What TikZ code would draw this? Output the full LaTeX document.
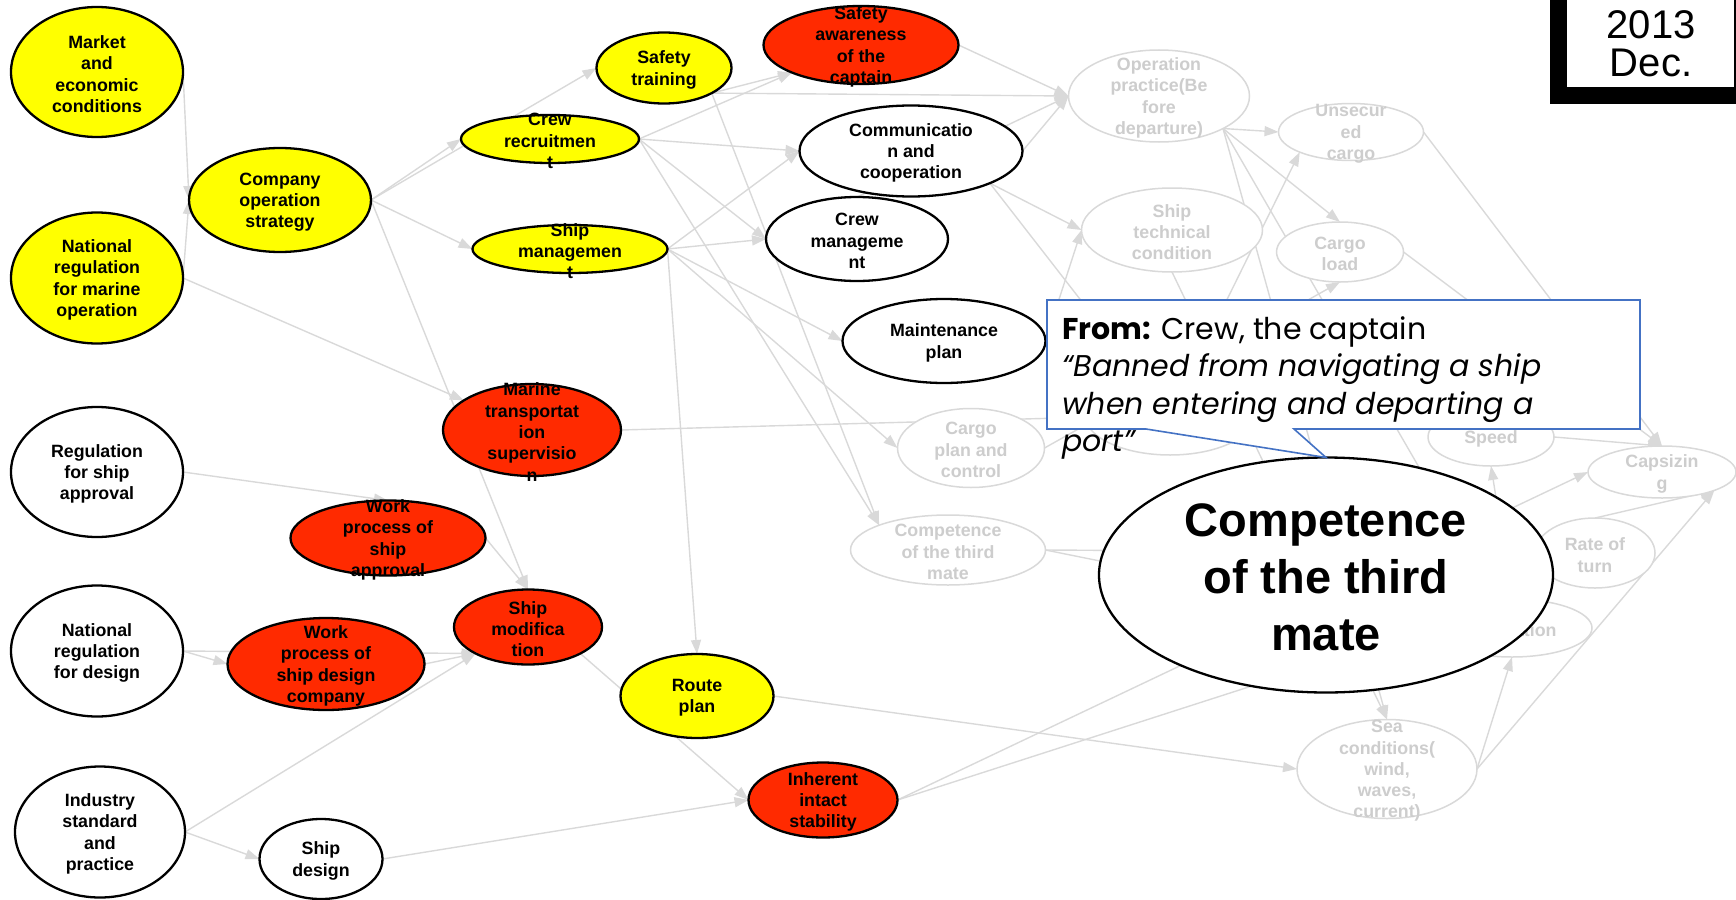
\documentclass[tikz,border=0pt]{standalone}
\usepackage{fontspec}
\setmainfont{Liberation Sans}
\newfontfamily\gothic{Poppins}
\usetikzlibrary{arrows.meta,shapes.geometric,backgrounds}

\definecolor{nodeyellow}{RGB}{255,255,0}
\definecolor{nodered}{RGB}{255,42,0}
\definecolor{faint}{RGB}{217,217,217}
\definecolor{fainttext}{RGB}{205,205,205}
\definecolor{calloutblue}{RGB}{68,114,196}

\newcommand{\nodefont}{\bfseries\fontsize{17.8}{21.3}\selectfont}

\begin{document}
\begin{tikzpicture}[x=1pt,y=-1pt,
    factor/.style={ellipse, inner sep=0pt, outer sep=0pt, draw=black, line width=2.3pt},
    yel/.style={factor, fill=nodeyellow},
    hot/.style={factor, fill=nodered},
    plain/.style={factor, fill=white},
    faded/.style={factor, fill=white, draw=faint, line width=1.5pt},
    lbl/.style={align=center, font=\nodefont, inner sep=0pt, text=black, yshift=-2pt},
    flbl/.style={lbl, text=fainttext},
    link/.style={draw=faint, line width=1.4pt, -{Triangle[length=14pt,width=10pt]}}]
    \useasboundingbox (0,0) rectangle (1736,899);

    % Outer conditions
    \node[yel, minimum width=172pt, minimum height=130pt, label={[lbl]center:{Market\\and\\economic\\conditions}}] (market) at (97,72) {};
    \node[yel, minimum width=172pt, minimum height=131pt, label={[lbl]center:{National\\regulation\\for marine\\operation}}] (natop) at (97,278) {};
    \node[plain, minimum width=172pt, minimum height=130pt, label={[lbl]center:{Regulation\\for ship\\approval}}] (regapp) at (97,472) {};
    \node[plain, minimum width=172pt, minimum height=131pt, label={[lbl]center:{National\\regulation\\for design}}] (natdes) at (97,651) {};
    \node[plain, minimum width=170pt, minimum height=131pt, label={[lbl]center:{Industry\\standard\\and\\practice}}] (industry) at (100,832) {};

    % Company and ship side
    \node[yel, minimum width=182pt, minimum height=104pt, label={[lbl]center:{Company\\operation\\strategy}}] (company) at (280,200) {};
    \node[yel, minimum width=178pt, minimum height=48pt, label={[lbl]center:{Crew\\recruitmen\\t}}] (crewrec) at (550,139) {};
    \node[yel, minimum width=195pt, minimum height=48pt, label={[lbl]center:{Ship\\managemen\\t}}] (shipmgmt) at (570,249) {};
    \node[yel, minimum width=135pt, minimum height=71pt, label={[lbl]center:{Safety\\training}}] (sftrain) at (664,68) {};
    \node[hot, minimum width=195pt, minimum height=78pt, label={[lbl]center:{Safety\\awareness\\of the\\captain}}] (safeaw) at (861,45) {};
    \node[plain, minimum width=223pt, minimum height=91pt, label={[lbl]center:{Communicatio\\n and\\cooperation}}] (comm) at (911,151) {};
    \node[plain, minimum width=182pt, minimum height=84pt, label={[lbl]center:{Crew\\manageme\\nt}}] (crewmgmt) at (857,239) {};
    \node[plain, minimum width=203pt, minimum height=84pt, label={[lbl]center:{Maintenance\\plan}}] (maint) at (944,341) {};
    \node[hot, minimum width=178pt, minimum height=92pt, label={[lbl]center:{Marine\\transportat\\ion\\supervisio\\n}}] (marsup) at (532,430) {};
    \node[hot, minimum width=195pt, minimum height=75pt, label={[lbl]center:{Work\\process of\\ship\\approval}}] (workapp) at (388,538) {};
    \node[hot, minimum width=197pt, minimum height=92pt, label={[lbl]center:{Work\\process of\\ship design\\company}}] (workdes) at (326,664) {};
    \node[hot, minimum width=148pt, minimum height=75pt, label={[lbl]center:{Ship\\modifica\\tion}}] (shipmod) at (528,627) {};
    \node[yel, minimum width=153pt, minimum height=84pt, label={[lbl]center:{Route\\plan}}] (route) at (697,696) {};
    \node[hot, minimum width=149pt, minimum height=75pt, label={[lbl]center:{Inherent\\intact\\stability}}] (inherent) at (823,800) {};
    \node[plain, minimum width=123pt, minimum height=80pt, label={[lbl]center:{Ship\\design}}] (shipdes) at (321,859) {};

    % Voyage side (faded)
    \node[faded, minimum width=181pt, minimum height=92pt, label={[flbl]center:{Operation\\practice(Be\\fore\\departure)}}] (oppr) at (1159,96) {};
    \node[faded, minimum width=145pt, minimum height=57pt, label={[flbl]center:{Unsecur\\ed\\cargo}}] (unsec) at (1351,132) {};
    \node[faded, minimum width=181pt, minimum height=84pt, label={[flbl]center:{Ship\\technical\\condition}}] (shiptech) at (1172,230) {};
    \node[faded, minimum width=127pt, minimum height=60pt, label={[flbl]center:{Cargo\\load}}] (cargoload) at (1340,252) {};
    \node[faded, minimum width=147pt, minimum height=79pt, label={[flbl]center:{Cargo\\plan and\\control}}] (cargoplan) at (971,448) {};
    \node[faded, minimum width=195pt, minimum height=70pt, label={[flbl]center:{Competence\\of the third\\mate}}] (compg) at (948,550) {};
    \node[faded, minimum width=170pt, minimum height=80pt] (navhid) at (1170,415) {};
    \node[faded, minimum width=126pt, minimum height=58pt, label={[flbl]center:{Speed}}] (speed) at (1491,437) {};
    \node[faded, minimum width=148pt, minimum height=52pt, label={[flbl]center:{Capsizin\\g}}] (capsize) at (1662,472) {};
    \node[faded, minimum width=120pt, minimum height=70pt, label={[flbl]center:{Rate of\\turn}}] (rate) at (1595,553) {};
    \node[faded, minimum width=160pt, minimum height=58pt, label={[flbl]center:{Inclination}}] (inclin) at (1512,628) {};
    \node[faded, minimum width=180pt, minimum height=99pt, label={[flbl]center:{Sea\\conditions(\\wind,\\waves,\\current)}}] (sea) at (1387,769) {};

    % Links
    \begin{scope}[on background layer]
        \draw[link] (market.east) -- (company.west);
        \draw[link] (natop.east) -- (company.west);
        \draw[link] (natop.east) -- (marsup);
        \draw[link] (company.east) -- (crewrec.west);
        \draw[link] (company.east) -- (sftrain.west);
        \draw[link] (company.east) -- (shipmgmt.west);
        \draw[link] (company.east) -- (shipmod.north);
        \draw[link] (regapp.east) -- (workapp.north);
        \draw[link] (workapp.east) -- (shipmod.north);
        \draw[link] (natdes.east) -- (workdes.west);
        \draw[link] (natdes.east) -- (shipmod.south west);
        \draw[link] (workdes.east) -- (shipmod.south west);
        \draw[link] (industry.east) -- (shipmod.south west);
        \draw[link] (industry.east) -- (shipdes.west);
        \draw[link] (shipmod.south east) -- (inherent.west);
        \draw[link] (shipdes.east) -- (inherent.west);
        \draw[link] (marsup.east) -- (navhid);

        \draw[link] (crewrec.east) -- (safeaw.south west);
        \draw[link] (sftrain.south east) -- (safeaw.south west);
        \draw[link] (sftrain.south east) -- (oppr.west);
        \draw[link] (sftrain.south east) -- (compg.north west);
        \draw[link] (safeaw.east) -- (oppr.west);
        \draw[link] (crewrec.east) -- (comm.west);
        \draw[link] (crewrec.east) -- (crewmgmt.west);
        \draw[link] (crewrec.east) -- (compg.north west);
        \draw[link] (shipmgmt.east) -- (comm.west);
        \draw[link] (shipmgmt.east) -- (crewmgmt.west);
        \draw[link] (shipmgmt.east) -- (maint.west);
        \draw[link] (shipmgmt.east) -- (cargoplan.west);
        \draw[link] (shipmgmt.east) -- (route.north);
        \draw[link] (comm.east) -- (oppr.west);
        \draw[link] (crewmgmt.north) -- (oppr.west);
        \draw[link] (comm.south east) -- (shiptech.west);
        \draw[link] (comm.south east) -- (navhid);
        \draw[link] (maint.east) -- (shiptech.west);

        \draw[link] (oppr.south east) -- (unsec.west);
        \draw[link] (oppr.south east) -- (cargoload.north);
        \draw[link] (oppr.south east) -- (sea.north);
        \draw[link] (oppr.south east) -- (inclin);
        \draw[link] (shiptech.south) -- (sea.north);
        \draw[link] (navhid) -- (unsec.south west);
        \draw[link] (cargoplan.east) -- (cargoload.south);
        \draw[link] (compg.east) -- (rate.west);
        \draw[link] (compg.east) -- (inclin.west);
        \draw[link] (route.east) -- (sea.west);
        \draw[link] (inherent.east) -- (capsize.west);
        \draw[link] (inherent.east) -- (inclin.west);
        \draw[link] (sea.east) -- (inclin.south);
        \draw[link] (sea.east) -- (capsize.south east);
        \draw[link] (inclin.north) -- (speed.south);
        \draw[link] (unsec.east) -- (capsize.north);
        \draw[link] (cargoload.east) -- (capsize.north);
        \draw[link] (speed.east) -- (capsize.north);
        \draw[link] (rate.north) -- (capsize.south east);
    \end{scope}

    % Highlighted factor
    \node[plain, minimum width=454pt, minimum height=235pt, label={[lbl, font=\bfseries\fontsize{47}{57}\selectfont]center:{Competence\\of the third\\mate}}] (focus) at (1326,575) {};

    % Callout
    \path[fill=white, draw=calloutblue, line width=1.6pt] (1047,300) -- (1640,300) -- (1640,429) -- (1294,429) -- (focus.north) -- (1146,429) -- (1047,429) -- cycle;
    \node[anchor=north west, align=left, inner sep=0pt, font=\gothic\fontsize{30}{37.5}\selectfont] (quote) at (1062,316)
        {\textbf{From:} Crew, the captain\\\itshape “Banned from navigating a ship\\\itshape when entering and departing a\\\itshape port”};

    % Date stamp
    \draw[line width=17pt, fill=white] (1558.5,-60) rectangle (1742.5,95.5);
    \node[font=\fontsize{40}{38}\selectfont, align=center, inner sep=0pt] (date) at (1651,44) {2013\\Dec.};
\end{tikzpicture}
\end{document}
